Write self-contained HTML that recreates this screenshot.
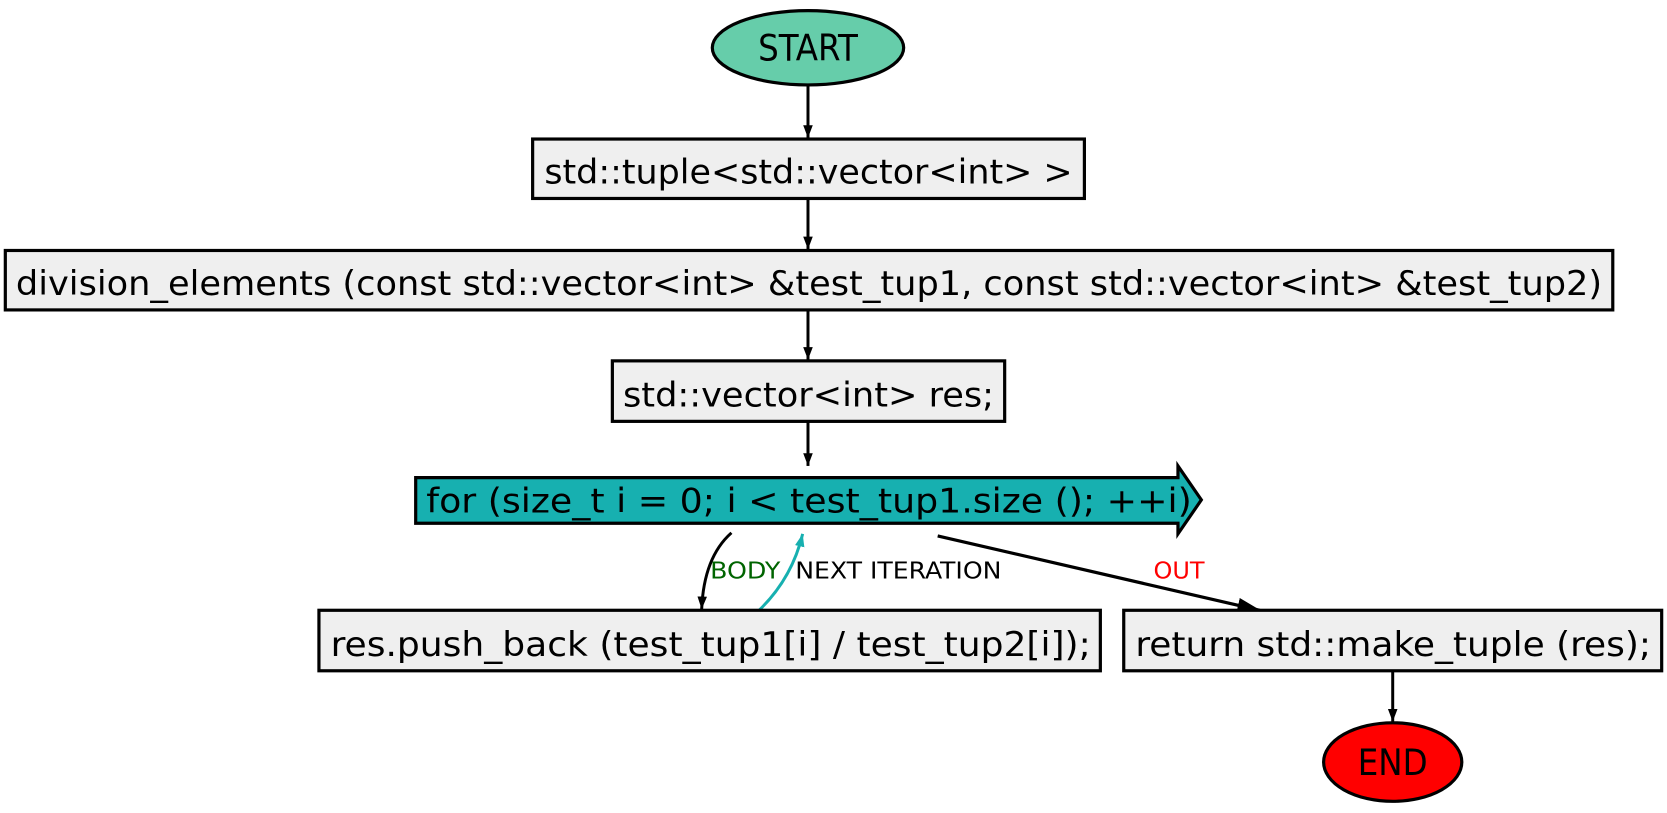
<!DOCTYPE html>
<html><head><meta charset="utf-8"><style>html,body{margin:0;padding:0;background:#fff}svg{display:block}</style></head>
<body>
<svg width="1667" height="813" viewBox="0 0 1568 766" preserveAspectRatio="none" xmlns="http://www.w3.org/2000/svg" font-family="'DejaVu Sans Condensed','Liberation Sans',sans-serif">
<defs>
<marker id="ah" markerWidth="12" markerHeight="14" refX="16" refY="7" orient="auto" markerUnits="userSpaceOnUse" viewBox="0 0 16 14"><path d="M0,1 L16,7 L0,13 z" fill="#000"/></marker>
<marker id="aht" markerWidth="12" markerHeight="14" refX="16" refY="7" orient="auto" markerUnits="userSpaceOnUse" viewBox="0 0 16 14"><path d="M0,1 L16,7 L0,13 z" fill="#17b0b0"/></marker>
<marker id="ahl" markerWidth="22" markerHeight="14" refX="21" refY="7" orient="auto" markerUnits="userSpaceOnUse" viewBox="0 0 22 14"><path d="M0,0 L22,7 L0,14 z" fill="#000"/></marker>
</defs>
<g stroke="#000" stroke-width="2.8" fill="none">
<line x1="760" y1="81" x2="760" y2="130" marker-end="url(#ah)"/>
<line x1="760" y1="187" x2="760" y2="235" marker-end="url(#ah)"/>
<line x1="760" y1="292" x2="760" y2="339" marker-end="url(#ah)"/>
<line x1="760" y1="397" x2="760" y2="439" marker-end="url(#ah)"/>
<path d="M688,502 Q662,525 660,574" marker-end="url(#ah)"/>
<path d="M714,575 Q745,545 755,503" stroke="#17b0b0" marker-end="url(#aht)"/>
<line x1="882" y1="505" x2="1185" y2="575" stroke-width="3" marker-end="url(#ahl)"/>
<line x1="1310" y1="632" x2="1310" y2="680" marker-end="url(#ah)"/>
</g>
<ellipse cx="760" cy="45" rx="90" ry="35" fill="#66cdaa" stroke="#000" stroke-width="3"/>
<text x="760" y="57" font-size="34" text-anchor="middle">START</text>
<rect x="501" y="131" width="519" height="56" fill="#efefef" stroke="#000" stroke-width="3"/>
<text x="512" y="173" font-size="32" textLength="497" lengthAdjust="spacingAndGlyphs">std::tuple&lt;std::vector&lt;int&gt; &gt;</text>
<rect x="5" y="236" width="1512" height="56" fill="#efefef" stroke="#000" stroke-width="3"/>
<text x="15" y="278" font-size="32" textLength="1492" lengthAdjust="spacingAndGlyphs">division_elements (const std::vector&lt;int&gt; &amp;test_tup1, const std::vector&lt;int&gt; &amp;test_tup2)</text>
<rect x="576" y="340" width="369" height="57" fill="#efefef" stroke="#000" stroke-width="3"/>
<text x="586" y="383" font-size="32" textLength="349" lengthAdjust="spacingAndGlyphs">std::vector&lt;int&gt; res;</text>
<polygon points="391,450 1108,450 1108,439 1130,471 1108,503 1108,493 391,493" fill="#17b0b0" stroke="#000" stroke-width="3"/>
<text x="401" y="483" font-size="32" textLength="720" lengthAdjust="spacingAndGlyphs">for (size_t i = 0; i &lt; test_tup1.size (); ++i)</text>
<rect x="300" y="575" width="735" height="57" fill="#efefef" stroke="#000" stroke-width="3"/>
<text x="311" y="618" font-size="32" textLength="715" lengthAdjust="spacingAndGlyphs">res.push_back (test_tup1[i] / test_tup2[i]);</text>
<rect x="1057" y="575" width="506" height="57" fill="#efefef" stroke="#000" stroke-width="3"/>
<text x="1068" y="618" font-size="32" textLength="485" lengthAdjust="spacingAndGlyphs">return std::make_tuple (res);</text>
<ellipse cx="1310" cy="718" rx="65" ry="37" fill="#ff0000" stroke="#000" stroke-width="3"/>
<text x="1310" y="730" font-size="34" text-anchor="middle">END</text>
<text x="668" y="545" font-size="22" fill="#006400" textLength="66" lengthAdjust="spacingAndGlyphs">BODY</text>
<text x="748" y="545" font-size="22" fill="#000" textLength="194" lengthAdjust="spacingAndGlyphs">NEXT ITERATION</text>
<text x="1085" y="545" font-size="22" fill="#ff0000" textLength="48" lengthAdjust="spacingAndGlyphs">OUT</text>
</svg>
</body></html>
